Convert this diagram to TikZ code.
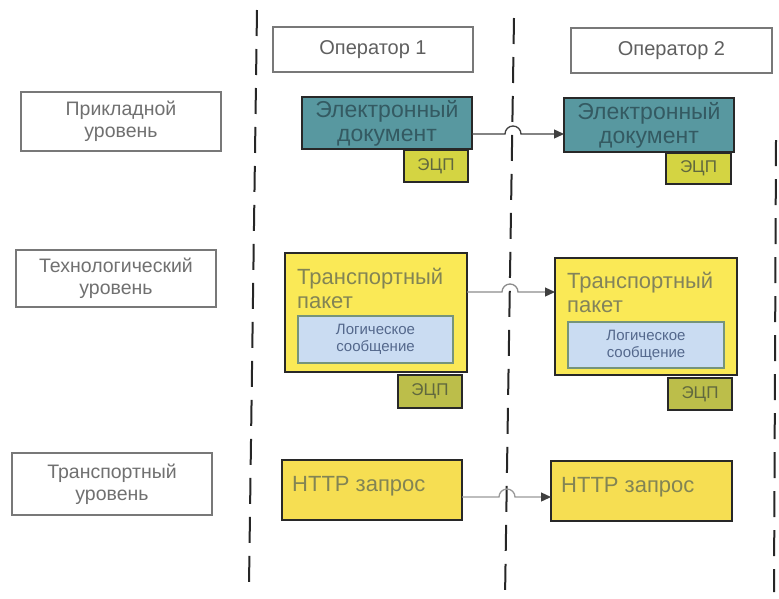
\documentclass[tikz,border=0pt]{standalone}
\usepackage{fontspec}
\setmainfont{Liberation Sans}
\usetikzlibrary{arrows.meta,calc}

\definecolor{docfill}{RGB}{88,152,160}
\definecolor{doctext}{RGB}{52,90,98}
\definecolor{sigfill}{RGB}{212,212,66}
\definecolor{sigfilldark}{RGB}{188,190,74}
\definecolor{sigtext}{RGB}{96,104,62}
\definecolor{pktfill}{RGB}{250,233,86}
\definecolor{pkttext}{RGB}{130,132,84}
\definecolor{msgfill}{RGB}{202,220,242}
\definecolor{msgdraw}{RGB}{118,148,122}
\definecolor{msgtext}{RGB}{84,104,140}
\definecolor{httpfill}{RGB}{246,222,82}
\definecolor{lbltext}{RGB}{112,112,112}
\definecolor{lbldraw}{RGB}{120,120,120}
\definecolor{edge}{RGB}{40,40,40}

\begin{document}
\begin{tikzpicture}[x=1pt,y=-1pt,
  sz/.style 2 args={minimum width=#1pt, minimum height=#2pt},
  cell/.style={anchor=north west, inner sep=0pt, outer sep=0pt},
  lvlbox/.style={cell, draw=lbldraw, line width=1.1pt, fill=white,
    align=center, text=lbltext, font=\fontsize{19.5}{22}\selectfont},
  opbox/.style={cell, draw=lbldraw, line width=1.2pt, fill=white,
    text=lbltext!85!black, font=\fontsize{20}{22}\selectfont},
  docbox/.style={cell, draw=edge, line width=1.5pt, fill=docfill,
    align=center, text=doctext, font=\fontsize{23}{24}\selectfont},
  sigbox/.style={cell, draw=edge, line width=1.4pt, fill=#1,
    text=sigtext, font=\fontsize{17}{20}\selectfont},
  pktbox/.style={cell, draw=edge, line width=1.5pt, fill=pktfill},
  httpbox/.style={cell, draw=edge, line width=1.5pt, fill=httpfill},
  msgbox/.style={cell, draw=msgdraw, line width=1.6pt, fill=msgfill,
    align=center, text=msgtext, font=\fontsize{15}{17}\selectfont},
  boxtext/.style={anchor=north west, inner sep=0pt, align=left,
    text=pkttext, font=\fontsize{22}{24}\selectfont},
  divider/.style={draw=black!85, line width=2pt, dash pattern=on 26pt off 13pt},
  hop/.style={line width=1.3pt, -{Triangle[length=10pt,width=9pt,color=black!75]}},
]
\useasboundingbox (0,0) rectangle (779,598);

% operator boundaries
\coordinate (lt) at (257,10);   \coordinate (lb) at (249,585);
\coordinate (mt) at (514,18);   \coordinate (mb) at (505,598);
\coordinate (rt) at (776,140);  \coordinate (rb) at (774,592);
\draw[divider] (lt) -- (lb);
\draw[divider] (mt) -- (mb);
\draw[divider] (rt) -- (rb);

% level captions
\node[lvlbox, sz={200}{59}] (lvlapp) at (21,92) {Прикладной\\уровень};
\node[lvlbox, sz={200}{57}] (lvltech) at (16,250) {Технологический\\уровень};
\node[lvlbox, sz={200}{62}] (lvltr) at (12,453) {Транспортный\\уровень};

% operators
\node[opbox, sz={200}{45}] (op1) at (273,27) {Оператор 1};
\node[opbox, sz={201}{45}] (op2) at (571,28) {Оператор 2};

% application level
\node[sigbox=sigfill, sz={64}{32}] (sig1) at (404,150) {ЭЦП};
\node[docbox, sz={170}{52}] (doc1) at (302,97) {Электронный\\документ};
\node[sigbox=sigfill, sz={65}{31}] (sig2) at (666,153) {ЭЦП};
\node[docbox, sz={170}{54}] (doc2) at (564,98) {Электронный\\документ};

% technological level
\node[pktbox, sz={182}{119}] (pkt1) at (285,253) {};
\node[boxtext] (pkt1t) at ($(pkt1.north west)+(12,15)$) {Транспортный\\пакет};
\node[msgbox, sz={155}{47}] (msg1) at (298,316) {Логическое\\сообщение};
\node[sigbox=sigfilldark, sz={64}{33}] (sig3) at (398,375) {ЭЦП};

\node[pktbox, sz={182}{117}] (pkt2) at (555,258) {};
\node[boxtext, text=pkttext!85!gray] (pkt2t) at ($(pkt2.north west)+(12,14)$) {Транспортный\\пакет};
\node[msgbox, sz={156}{46}] (msg2) at (568,322) {Логическое\\сообщение};
\node[sigbox=sigfilldark, sz={64}{32}] (sig4) at (668,378) {ЭЦП};

% transport level
\node[httpbox, sz={180}{60}] (http1) at (282,460) {};
\node[boxtext, font=\fontsize{22}{24}\selectfont] (http1t) at ($(http1.north west)+(10,16)$) {HTTP запрос};
\node[httpbox, sz={181}{60}] (http2) at (551,461) {};
\node[boxtext, font=\fontsize{22}{24}\selectfont] (http2t) at ($(http2.north west)+(10,16)$) {HTTP запрос};

% transfers between operators, hopping over the boundary
\coordinate (h1) at (513,134);
\coordinate (h2) at (510,292);
\coordinate (h3) at (507,497);
\draw[hop, draw=black!75] (doc1.east |- h1) -- ($(h1)+(-8,0)$)
  arc[start angle=180, end angle=360, radius=8] -- (doc2.west |- h1);
\draw[hop, draw=black!45] (pkt1.east |- h2) -- ($(h2)+(-8,0)$)
  arc[start angle=180, end angle=360, radius=8] -- (pkt2.west |- h2);
\draw[hop, draw=black!40] (http1.east |- h3) -- ($(h3)+(-8,0)$)
  arc[start angle=180, end angle=360, radius=8] -- (http2.west |- h3);
\end{tikzpicture}
\end{document}
